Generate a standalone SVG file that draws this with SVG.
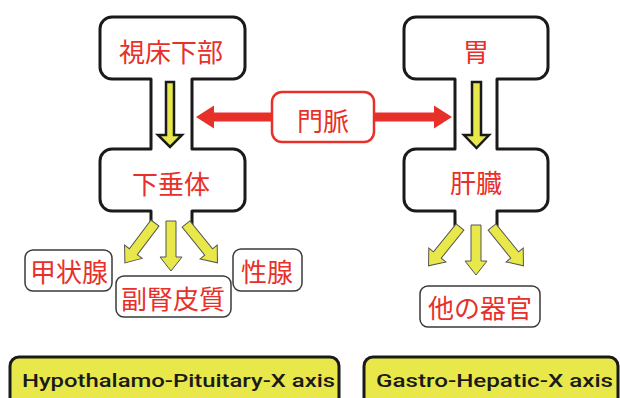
<svg xmlns="http://www.w3.org/2000/svg" xmlns:xlink="http://www.w3.org/1999/xlink" width="620" height="398" viewBox="0 0 620 398">
<style>
.outline{fill:#fff;stroke:#1a1a1a;stroke-width:3;stroke-linejoin:round}
.jp{font-family:"Noto Sans CJK JP","Noto Sans CJK SC",sans-serif;font-size:26px;fill:#e8302a;text-anchor:middle;dominant-baseline:central}
.lbl{fill:#fff;stroke:#3a3a3a;stroke-width:1.5}
.yarrow{fill:#e8e84a;stroke:#1a1a1a;stroke-width:2.5;stroke-linejoin:miter}
.yarrow2{fill:#e8e84a;stroke:#555;stroke-width:1}
.axis{fill:#e8e84a;stroke:#1a1a1a;stroke-width:3}
.axt{font-family:Roboto,"Liberation Sans",sans-serif;font-weight:500;font-size:19px;fill:#1a1a1a}
.red{fill:#e8302a}
</style>
<defs>
<path id="da" d="M-5,0 H5 V36 H11 L0,50 L-11,36 H-5 Z"/>
</defs>
<g id="hypothalamus-pituitary-outline">
<path class="outline" d="M151,225 V211 H112 A12,12 0 0 1 100,199 V161 A12,12 0 0 1 112,149 H151 V79 H112 A12,12 0 0 1 100,67 V29 A12,12 0 0 1 112,17 H233 A12,12 0 0 1 245,29 V67 A12,12 0 0 1 233,79 H192 V149 H233 A12,12 0 0 1 245,161 V199 A12,12 0 0 1 233,211 H192 V225"/>
</g>
<g id="stomach-liver-outline">
<path class="outline" d="M455,227 V211 H416 A12,12 0 0 1 404,199 V161 A12,12 0 0 1 416,149 H455 V79 H416 A12,12 0 0 1 404,67 V29 A12,12 0 0 1 416,17 H536 A12,12 0 0 1 548,29 V67 A12,12 0 0 1 536,79 H497 V149 H536 A12,12 0 0 1 548,161 V199 A12,12 0 0 1 536,211 H497 V227"/>
</g>
<g id="connectors">
<path class="red" d="M196,117 L214,105.5 V112.5 H434 V105.5 L452,117 L434,128.5 V121.5 H214 V128.5 Z"/>
<path class="yarrow" d="M166,82 H174 V135 H182 L170,147 L158,135 H166 Z"/>
<path class="yarrow" d="M472,82 H481 V135 H489 L476.5,148 L464,135 H472 Z"/>
<use xlink:href="#da" href="#da" class="yarrow2" transform="translate(171,221)"/>
<use xlink:href="#da" href="#da" class="yarrow2" transform="translate(155,223) rotate(37)"/>
<use xlink:href="#da" href="#da" class="yarrow2" transform="translate(186,224) rotate(-39)"/>
<use xlink:href="#da" href="#da" class="yarrow2" transform="translate(476,225)"/>
<use xlink:href="#da" href="#da" class="yarrow2" transform="translate(460,227) rotate(39)"/>
<use xlink:href="#da" href="#da" class="yarrow2" transform="translate(492,227) rotate(-39)"/>
</g>
<g id="node-hypothalamus"><text class="jp" x="171" y="50">視床下部</text></g>
<g id="node-pituitary"><text class="jp" x="171" y="182">下垂体</text></g>
<g id="node-stomach"><text class="jp" x="476" y="50">胃</text></g>
<g id="node-liver"><text class="jp" x="476" y="181">肝臓</text></g>
<g id="node-portal-vein">
<rect x="272" y="92" width="102" height="50" rx="10" fill="#fff" stroke="#e8302a" stroke-width="2.5"/>
<text class="jp" x="323" y="119" font-size="27">門脈</text>
</g>
<g id="node-thyroid">
<rect class="lbl" x="25" y="250" width="87" height="41" rx="8"/>
<text class="jp" x="69" y="270">甲状腺</text>
</g>
<g id="node-adrenal-cortex">
<rect class="lbl" x="116" y="276" width="115" height="41" rx="8"/>
<text class="jp" x="173" y="297">副腎皮質</text>
</g>
<g id="node-gonad">
<rect class="lbl" x="233" y="249" width="69" height="42" rx="8"/>
<text class="jp" x="267" y="270">性腺</text>
</g>
<g id="node-other-organs">
<rect class="lbl" x="420" y="286" width="120" height="41" rx="8"/>
<text class="jp" x="480" y="306">他の器官</text>
</g>
<g id="node-hpx-axis">
<rect class="axis" x="10" y="357" width="329" height="60" rx="9"/>
<text class="axt" x="22" y="387" textLength="313" lengthAdjust="spacingAndGlyphs">Hypothalamo-Pituitary-X axis</text>
</g>
<g id="node-ghx-axis">
<rect class="axis" x="364" y="357" width="254" height="60" rx="9"/>
<text class="axt" x="376" y="387" textLength="237" lengthAdjust="spacingAndGlyphs">Gastro-Hepatic-X axis</text>
</g>
</svg>
